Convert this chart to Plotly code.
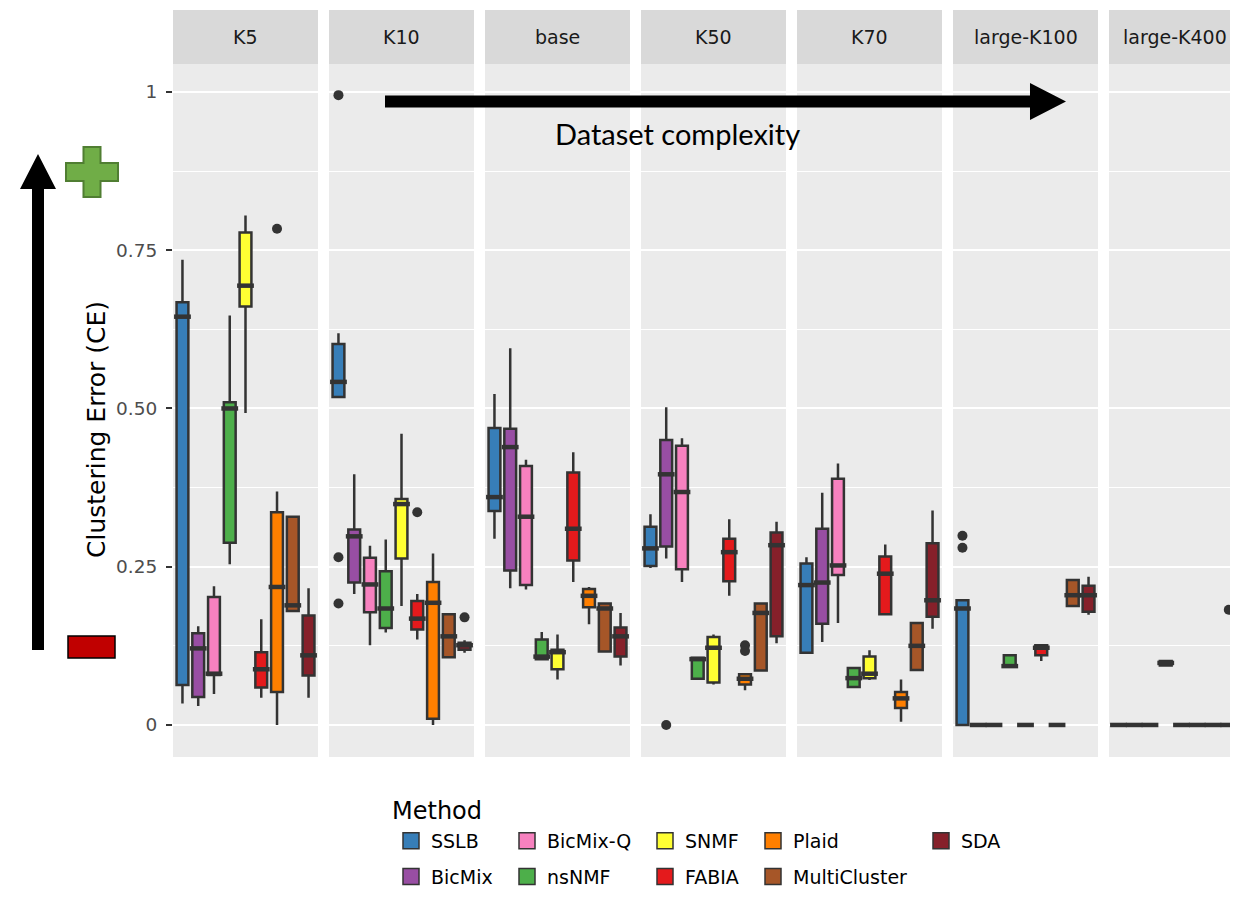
import plotly.graph_objects as go

# ---------------- data ----------------
FACETS = ["K5", "K10", "base", "K50", "K70", "large-K100", "large-K400"]
METHODS = ["SSLB", "BicMix", "BicMix-Q", "nsNMF", "SNMF", "FABIA", "Plaid", "MultiCluster", "SDA"]
COLORS = ["#377EB8", "#984EA3", "#F781BF", "#4DAF4A", "#FFFF33",
          "#E41A1C", "#FF7F00", "#A65628", "#86202A"]

# one row per facet, one column per method
LOWER = [
    [0.034, 0.030, 0.049, 0.254, 0.493, 0.043, 0.000, 0.180, 0.043],
    [0.518, 0.207, 0.126, 0.146, 0.188, 0.135, 0.000, 0.107, 0.114],
    [0.294, 0.216, 0.214, 0.104, 0.072, 0.226, 0.159, 0.116, 0.094],
    [0.248, 0.263, 0.226, 0.071, 0.064, 0.204, 0.055, 0.086, 0.129],
    [0.114, 0.131, 0.161, 0.058, 0.071, 0.173, 0.005, 0.087, 0.152],
    [0.000, 0.000, 0.000, 0.092, 0.000, 0.101, 0.000, 0.188, 0.174],
    [0.000, 0.000, 0.000, 0.094, 0.000, 0.000, 0.000, 0.000, 0.000],
]
Q1 = [
    [0.063, 0.044, 0.079, 0.288, 0.661, 0.059, 0.052, 0.180, 0.078],
    [0.518, 0.225, 0.178, 0.153, 0.263, 0.151, 0.010, 0.107, 0.119],
    [0.338, 0.244, 0.221, 0.104, 0.088, 0.260, 0.186, 0.116, 0.108],
    [0.251, 0.282, 0.246, 0.073, 0.067, 0.227, 0.064, 0.086, 0.140],
    [0.114, 0.160, 0.237, 0.060, 0.074, 0.175, 0.027, 0.087, 0.171],
    [0.000, 0.000, 0.000, 0.092, 0.000, 0.110, 0.000, 0.188, 0.179],
    [0.000, 0.000, 0.000, 0.094, 0.000, 0.000, 0.000, 0.000, 0.000],
]
MEDIAN = [
    [0.645, 0.121, 0.081, 0.500, 0.694, 0.088, 0.218, 0.189, 0.110],
    [0.542, 0.298, 0.222, 0.184, 0.349, 0.168, 0.193, 0.140, 0.126],
    [0.360, 0.439, 0.329, 0.108, 0.115, 0.310, 0.204, 0.184, 0.140],
    [0.279, 0.396, 0.368, 0.104, 0.122, 0.273, 0.073, 0.177, 0.284],
    [0.221, 0.225, 0.252, 0.074, 0.081, 0.239, 0.042, 0.125, 0.197],
    [0.184, 0.000, 0.000, 0.093, 0.000, 0.122, 0.000, 0.205, 0.205],
    [0.000, 0.000, 0.000, 0.098, 0.000, 0.000, 0.000, 0.000, 0.000],
]
Q3 = [
    [0.668, 0.145, 0.202, 0.510, 0.778, 0.115, 0.336, 0.329, 0.173],
    [0.602, 0.309, 0.264, 0.243, 0.357, 0.196, 0.226, 0.175, 0.130],
    [0.469, 0.468, 0.409, 0.135, 0.119, 0.399, 0.215, 0.192, 0.154],
    [0.313, 0.450, 0.441, 0.106, 0.139, 0.294, 0.080, 0.192, 0.304],
    [0.255, 0.310, 0.389, 0.090, 0.108, 0.266, 0.052, 0.161, 0.287],
    [0.197, 0.000, 0.000, 0.110, 0.000, 0.126, 0.000, 0.229, 0.220],
    [0.000, 0.000, 0.000, 0.101, 0.000, 0.000, 0.000, 0.000, 0.000],
]
UPPER = [
    [0.735, 0.156, 0.219, 0.647, 0.805, 0.167, 0.369, 0.329, 0.216],
    [0.619, 0.396, 0.283, 0.293, 0.460, 0.207, 0.271, 0.175, 0.134],
    [0.523, 0.595, 0.419, 0.147, 0.143, 0.431, 0.218, 0.192, 0.177],
    [0.333, 0.502, 0.453, 0.107, 0.143, 0.325, 0.080, 0.192, 0.321],
    [0.265, 0.367, 0.413, 0.090, 0.118, 0.285, 0.072, 0.161, 0.339],
    [0.197, 0.000, 0.000, 0.110, 0.000, 0.128, 0.000, 0.229, 0.234],
    [0.000, 0.000, 0.000, 0.101, 0.000, 0.000, 0.000, 0.000, 0.000],
]
OUTLIER_FACET = ["K5", "K10", "K10", "K10", "K10", "K10", "K50", "K50", "K50",
                 "large-K100", "large-K100", "large-K400"]
OUTLIER_METHOD = ["Plaid", "SSLB", "SSLB", "SSLB", "FABIA", "SDA", "BicMix", "Plaid", "Plaid",
                  "SSLB", "SSLB", "MultiCluster"]
OUTLIER_VALUE = [0.784, 0.995, 0.265, 0.192, 0.336, 0.170, 0.000, 0.126, 0.117,
                 0.299, 0.280, 0.182]

Y_TICKS = [0, 0.25, 0.5, 0.75, 1]
Y_TICKTEXT = ["0", "0.25", "0.50", "0.75", "1"]
Y_MINOR = [0.125, 0.375, 0.625, 0.875]

# legend columns (ggplot fills the 2-row legend column by column)
LEGEND_COLUMNS = [["SSLB", "BicMix"], ["BicMix-Q", "nsNMF"], ["SNMF", "FABIA"],
                  ["Plaid", "MultiCluster"], ["SDA"]]

# ---------------- layout geometry (page pixels) ----------------
PAGE_W, PAGE_H = 1238, 900
OFF = 8                                       # default <body> margin of the html page
W, H = PAGE_W - 2 * OFF, PAGE_H - 2 * OFF     # figure fits the window without scrollbars
TOP, BOTTOM = 64, 757                         # panel top / bottom (page px)
PANEL_W, PANEL_STEP, PANEL_X0 = 145, 156, 173
STRIP_TOP = 10
VIS_RIGHT = OFF + W
FONT = "DejaVu Sans"
OUTLINE = "#333333"


def px(xp):
    return (xp - OFF) / W


def py(yp):
    return (BOTTOM - yp) / (BOTTOM - TOP)


fig = go.Figure()
layout = dict(
    width=W, height=H,
    margin=dict(l=0, r=0, t=TOP - OFF, b=H - (BOTTOM - OFF), pad=0, autoexpand=False),
    paper_bgcolor="white", plot_bgcolor="#EBEBEB",
    font=dict(family=FONT, color="black"),
    showlegend=True,
    shapes=[], annotations=[],
)

unit_px = PANEL_W / 9.2
for f, facet in enumerate(FACETS):
    left = PANEL_X0 + f * PANEL_STEP
    right = min(left + PANEL_W, VIS_RIGHT)
    xa = "x" if f == 0 else f"x{f + 1}"
    ya = "y" if f == 0 else f"y{f + 1}"
    xr = [-0.6, -0.6 + (right - left) / unit_px]
    layout["xaxis" if f == 0 else f"xaxis{f + 1}"] = dict(
        domain=[px(left), min(px(right), 1.0)], anchor=ya, type="category",
        categoryorder="array", categoryarray=METHODS, range=xr,
        showticklabels=False, ticks="", showgrid=False, zeroline=False,
        showline=False, fixedrange=True)
    yax = dict(
        domain=[0, 1], anchor=xa, range=[-0.0506, 1.0442],
        tickvals=Y_TICKS, ticktext=Y_TICKTEXT,
        showgrid=True, gridcolor="white", gridwidth=2,
        minor=dict(tickvals=Y_MINOR, showgrid=True, gridcolor="white", gridwidth=1, ticks=""),
        zeroline=False, showline=False, fixedrange=True)
    if f == 0:
        yax.update(ticks="outside", ticklen=6, tickwidth=1.5, tickcolor=OUTLINE,
                   ticklabelstandoff=5,
                   tickfont=dict(family=FONT, size=18.5, color="#4D4D4D"))
    else:
        yax.update(showticklabels=False, ticks="", matches="y")
    layout["yaxis" if f == 0 else f"yaxis{f + 1}"] = yax

    # strip
    layout["shapes"].append(dict(type="rect", xref="paper", yref="paper",
                                 x0=px(left), x1=min(px(right), 1.0), y0=py(TOP), y1=py(STRIP_TOP),
                                 fillcolor="#D9D9D9", line=dict(width=0), layer="below"))
    label_x = min(left + PANEL_W / 2, right - 55)
    layout["annotations"].append(dict(text=facet, xref="paper", yref="paper",
                                      x=px(label_x), y=py((TOP + STRIP_TOP) / 2),
                                      showarrow=False, xanchor="center", yanchor="middle",
                                      font=dict(family=FONT, size=19, color="#1A1A1A")))

    # boxes
    for m, method in enumerate(METHODS):
        fig.add_trace(go.Box(
            x=[method], q1=[Q1[f][m]], median=[MEDIAN[f][m]], q3=[Q3[f][m]],
            lowerfence=[LOWER[f][m]], upperfence=[UPPER[f][m]],
            width=0.75, whiskerwidth=0, boxpoints=False,
            fillcolor=COLORS[m], line=dict(color=OUTLINE, width=2.5),
            name=method, legendgroup=method, showlegend=False,
            xaxis=xa, yaxis=ya, hoverinfo="skip"))
    # thick median bars (ggplot's fattened median)
    fig.add_trace(go.Scatter(
        x=METHODS, y=MEDIAN[f], mode="markers",
        marker=dict(symbol="line-ew", size=12, line=dict(width=4.5, color=OUTLINE)),
        showlegend=False, xaxis=xa, yaxis=ya, hoverinfo="skip"))
    # outliers
    ox = [mth for fc, mth in zip(OUTLIER_FACET, OUTLIER_METHOD) if fc == facet]
    oy = [v for fc, v in zip(OUTLIER_FACET, OUTLIER_VALUE) if fc == facet]
    if ox:
        fig.add_trace(go.Scatter(
            x=ox, y=oy, mode="markers",
            marker=dict(symbol="circle", size=10, color=OUTLINE),
            showlegend=False, xaxis=xa, yaxis=ya, hoverinfo="skip"))

# ---------------- legend: one plotly legend per ggplot legend column ----------------
COL_TEXT_X = [432, 548, 686, 794, 962]
for c, col in enumerate(LEGEND_COLUMNS):
    lname = "legend" if c == 0 else f"legend{c + 1}"
    for method in col:
        m = METHODS.index(method)
        fig.add_trace(go.Scatter(
            x=[None], y=[None], mode="markers", name=method, legendgroup=method,
            marker=dict(symbol="square", size=16, color=COLORS[m],
                        line=dict(color=OUTLINE, width=1.5)),
            legend=lname, showlegend=True, hoverinfo="skip"))
    layout[lname] = dict(
        x=px(COL_TEXT_X[c] - 41), y=py(822), xanchor="left", yanchor="top",
        orientation="v", bgcolor="rgba(0,0,0,0)", borderwidth=0,
        tracegroupgap=8, font=dict(family=FONT, size=19, color="black"))

layout["annotations"].append(dict(text="Method", xref="paper", yref="paper",
                                  x=px(390), y=py(811), xanchor="left", yanchor="middle",
                                  showarrow=False, font=dict(family=FONT, size=24, color="black")))

# y-axis title
layout["annotations"].append(dict(text="Clustering Error (CE)", xref="paper", yref="paper",
                                  x=px(96), y=py(430), textangle=-90, showarrow=False,
                                  xanchor="center", yanchor="middle",
                                  font=dict(family=FONT, size=25, color="black")))

# ---------------- decorations: arrows, plus / minus ----------------
def poly(points):
    return "M " + " L ".join(f"{px(a):.5f},{py(b):.5f}" for a, b in points) + " Z"


h_arrow = [(385, 95.5), (1030, 95.5), (1030, 83), (1066, 101.5), (1030, 120),
           (1030, 107.5), (385, 107.5)]
v_arrow = [(32, 650), (32, 189), (20, 189), (38, 154), (56, 189), (44, 189), (44, 650)]
plus = [(83.5, 147), (100.5, 147), (100.5, 163), (118, 163), (118, 181), (100.5, 181),
        (100.5, 197), (83.5, 197), (83.5, 181), (66, 181), (66, 163), (83.5, 163)]
layout["shapes"] += [
    dict(type="path", xref="paper", yref="paper", path=poly(h_arrow),
         fillcolor="black", line=dict(width=0)),
    dict(type="path", xref="paper", yref="paper", path=poly(v_arrow),
         fillcolor="black", line=dict(width=0)),
    dict(type="path", xref="paper", yref="paper", path=poly(plus),
         fillcolor="#70AD47", line=dict(color="#507E32", width=2)),
    dict(type="rect", xref="paper", yref="paper", x0=px(68), x1=px(115),
         y0=py(658), y1=py(636), fillcolor="#C00000", line=dict(color="black", width=1.5)),
]
layout["annotations"].append(dict(text="Dataset complexity", xref="paper", yref="paper",
                                  x=px(677), y=py(134), xanchor="center", yanchor="middle",
                                  showarrow=False, font=dict(family="Lato", size=29, color="black")))

fig.update_layout(**layout)
fig.write_html("out.html")
